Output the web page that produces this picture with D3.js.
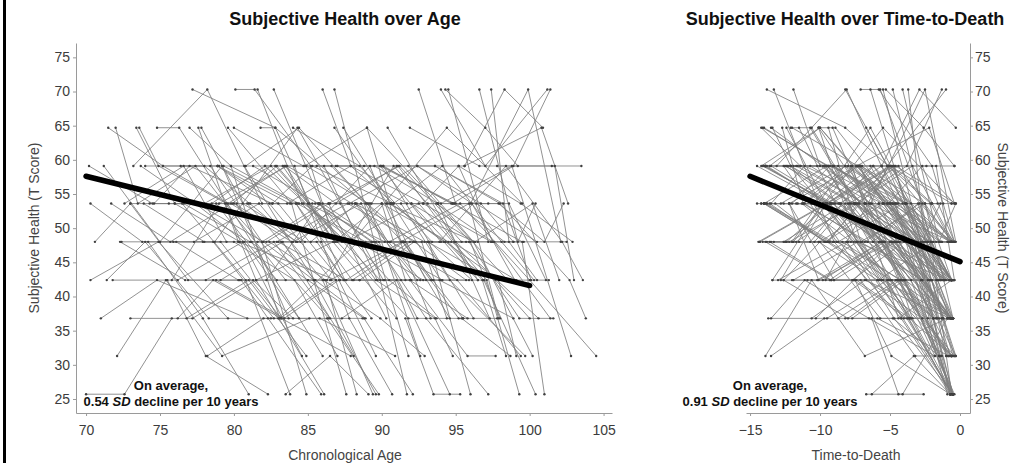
<!DOCTYPE html>
<html>
<head>
<meta charset="utf-8">
<script src="https://cdn.jsdelivr.net/npm/d3@7"></script>
<style>
  body { margin: 0; background: #fff; }
  svg { display: block; }
  text { font-family: "Liberation Sans", Arial, Helvetica, sans-serif; }
</style>
</head>
<body>
<svg id="chart" width="1027" height="463"></svg>
<script>
// Discrete T-score levels of the subjective health item
const tLevels = [25.7, 31.3, 36.8, 42.4, 48.0, 53.6, 59.1, 64.7, 70.3];

// Age at death, one entry per participant
const deathAge = [
  84.0, 83.5, 76.7, 80.5, 85.0, 84.7, 86.0, 86.2, 81.6, 86.3,
  87.0, 82.5, 88.3, 86.9, 84.4, 91.0, 83.0, 90.0, 88.0, 85.5,
  91.2, 89.9, 87.7, 92.0, 91.7, 87.2, 93.0, 88.9, 91.6, 87.5,
  94.1, 92.7, 90.3, 95.0, 87.3, 93.5, 91.9, 96.0, 90.5, 94.6,
  97.2, 96.0, 95.5, 89.8, 98.0, 96.4, 94.0, 99.0, 92.6, 97.5,
  97.9, 100.0, 93.9, 98.6, 96.9, 101.0, 95.0, 99.8, 92.3, 102.0,
  96.2, 100.7, 98.4, 103.5, 97.7, 101.6, 99.4, 104.9, 98.9, 101.2,
  100.3, 97.9, 103.9, 101.2, 99.6, 104.0, 102.2, 100.9, 104.3, 98.5,
  99.6, 101.8, 99.3, 100.2, 102.4, 100.7, 101.1, 81.0, 83.8, 85.2,
  80.0, 86.7, 84.9, 102.7, 81.6, 84.3, 85.6, 86.4, 88.5, 89.0,
  91.2, 92.4, 96.5, 88.6, 93.3, 95.9, 90.7, 99.9, 97.1, 94.8,
  98.8, 103.0, 89.4, 92.9, 96.7, 100.5, 103.4, 87.5, 85.9, 89.1,
  84.0, 90.6, 92.2, 88.1, 93.8, 91.4, 95.3, 94.4, 96.9, 98.2,
  97.0, 99.5, 100.6, 101.9, 102.5, 103.1, 104.6, 89.7, 90.2, 86.1,
  92.8, 95.6, 94.9, 97.6, 99.2, 96.3, 100.9, 98.1, 93.6, 91.1,
  88.4, 87.9, 85.3, 102.9, 101.4, 99.0, 103.7, 96.0, 93.0, 90.0,
  104.2, 100.1
];

// Age at each assessment, per participant
const obsAge = [
  [70.2, 74.5, 78.8, 82.9], [70.3, 73.8, 78.6, 82.7], [70.0, 72.6, 75.8], [70.3, 74.9, 79.6],
  [71.5, 75.2, 78.0, 84.2], [72.0, 73.5, 77.4, 83.5], [72.1, 75.4, 79.2, 85.1], [72.4, 76.1, 80.3, 85.5],
  [71.0, 74.8, 80.9], [73.2, 78.2, 81.9, 85.1], [73.6, 74.9, 79.5, 86.4], [73.9, 78.0, 81.6],
  [74.3, 78.5, 82.1, 87.6], [74.8, 76.3, 81.2, 86.0], [75.0, 79.2, 83.7], [77.2, 82.8, 88.9, 90.4],
  [75.5, 78.1, 82.3], [76.0, 80.4, 85.6, 89.3], [76.4, 78.9, 83.0, 87.2], [76.8, 81.0, 84.9],
  [77.0, 79.8, 84.4, 90.6], [77.3, 81.7, 86.0, 89.4], [77.6, 80.3, 86.9], [78.0, 82.5, 87.3, 91.5],
  [78.2, 82.0, 85.8, 90.9], [80.1, 81.4, 85.2, 86.8], [78.9, 83.8, 88.2, 92.4], [79.1, 83.3, 88.1],
  [79.4, 81.5, 86.7, 91.0], [79.8, 83.1, 86.9], [80.0, 84.7, 89.5, 93.8], [80.3, 84.0, 88.6, 92.0],
  [80.7, 85.4, 89.6], [81.0, 85.0, 90.2, 94.3], [81.6, 84.6, 86.9], [81.5, 86.1, 89.9, 92.9],
  [81.8, 82.8, 87.5, 91.3], [82.1, 86.6, 91.4, 95.2], [82.3, 86.3, 89.8], [82.6, 85.3, 90.7, 94.0],
  [82.9, 87.7, 92.3, 96.5], [82.7, 87.0, 91.8, 95.5], [83.4, 86.9, 91.1, 94.9], [83.5, 86.5, 89.1],
  [84.0, 88.5, 93.4, 97.4], [84.2, 87.4, 91.9, 95.8], [84.5, 89.2, 93.3], [84.8, 89.0, 93.8, 98.5],
  [85.0, 88.8, 92.1], [85.3, 90.0, 94.5, 96.9], [86.0, 87.9, 92.8, 95.2, 97.5], [85.9, 90.6, 95.1, 99.4],
  [86.1, 89.7, 93.5], [86.4, 91.2, 96.0, 98.0], [86.8, 90.4, 96.3], [87.0, 91.7, 96.4, 100.5],
  [87.3, 91.0, 94.6], [87.6, 92.5, 97.1, 99.3], [86.8, 89.5, 91.8], [88.2, 92.9, 97.6, 101.4],
  [88.5, 92.2, 95.7], [88.8, 93.6, 98.2, 100.1], [89.0, 91.3, 95.9, 97.9], [89.3, 94.0, 98.8, 102.8],
  [89.6, 93.0, 97.2], [89.9, 94.8, 99.5, 101.0], [90.2, 93.9, 98.9], [90.5, 95.3, 100.0, 104.5],
  [92.5, 95.0, 98.3], [91.0, 95.6, 98.3, 100.9], [91.3, 94.6, 99.7], [91.6, 93.5, 95.3],
  [91.9, 96.6, 101.5, 103.5], [92.2, 95.0, 100.6], [92.4, 96.1, 99.0], [92.8, 97.4, 102.5],
  [94.0, 97.0, 101.2], [93.3, 96.9, 100.4], [93.6, 98.0, 102.7, 103.8], [93.8, 97.3],
  [94.3, 97.0, 99.2], [94.7, 99.1, 101.3], [94.5, 97.2, 98.9], [95.4, 98.7],
  [96.0, 99.9, 102.1], [96.6, 99.2, 100.4], [97.4, 98.6, 100.5], [70.6, 73.0, 76.9, 80.4],
  [71.2, 75.0, 79.1, 83.2], [71.8, 76.2, 80.6, 84.6], [72.6, 76.6, 79.5], [73.0, 77.2, 81.5, 86.1],
  [73.4, 76.0, 80.0, 84.3], [94.8, 98.9, 101.4], [74.2, 77.9, 81.0], [76.5, 80.8, 83.8],
  [78.4, 81.9, 84.9], [80.5, 85.9], [79.6, 83.9, 87.6], [82.4, 86.2, 88.3],
  [84.1, 87.8, 90.7], [85.7, 89.3, 91.7], [90.1, 93.2, 96.0], [75.8, 79.0, 83.6, 88.0],
  [83.0, 88.4, 92.8], [86.3, 90.8, 95.4], [78.7, 84.3, 90.1], [88.0, 94.4, 99.5],
  [90.4, 96.5], [81.3, 85.7, 89.4, 94.1], [87.2, 92.0, 96.8, 98.4], [95.6, 100.8, 102.6],
  [75.6, 80.9, 85.5, 88.9], [79.0, 84.9, 89.1, 92.6], [83.2, 88.7, 93.1, 96.2], [91.8, 96.2, 100.2],
  [97.8, 101.7, 103.0], [73.0, 77.5, 82.0, 85.4], [72.3, 76.7, 81.3, 84.0], [75.2, 79.6, 83.5, 86.8],
  [71.4, 74.0, 78.3, 82.5], [76.6, 81.1, 85.0, 88.5], [77.9, 82.2, 86.4, 90.3], [74.6, 77.0, 82.6, 86.5],
  [79.3, 84.2, 88.0, 91.9], [78.8, 83.4, 87.1, 89.6], [81.1, 85.5, 90.3, 93.0], [80.8, 84.4, 89.0, 92.1],
  [83.0, 87.6, 91.5, 94.6], [84.3, 88.9, 93.2, 96.1], [85.6, 89.9, 94.0, 95.7], [86.5, 91.4, 95.5, 97.8],
  [87.8, 92.4, 96.7, 98.9], [88.6, 93.1, 97.7, 100.0], [90.0, 94.9, 98.6, 101.1], [92.0, 96.3, 100.2, 102.0],
  [93.9, 98.4, 102.2, 103.6], [76.2, 78.6, 83.2, 87.9], [77.8, 80.6, 84.8, 88.2], [73.7, 77.4, 80.7, 84.4],
  [80.2, 83.6, 87.9, 90.8], [82.2, 85.8, 90.5, 93.7], [82.8, 87.3, 91.6, 93.4], [85.2, 88.3, 92.6, 95.9],
  [86.9, 90.1, 94.7, 97.2], [85.8, 89.6, 93.6, 94.8], [89.2, 93.7, 97.5, 99.6], [87.4, 90.6, 94.2, 96.5],
  [81.9, 86.0, 89.8, 92.4], [79.9, 82.9, 87.4, 89.9], [75.9, 80.0, 84.1, 87.0], [74.0, 78.9, 82.4, 86.6],
  [71.7, 75.7, 79.8, 83.9], [91.4, 95.9, 99.3, 101.6], [90.8, 94.1, 98.1, 100.3], [88.1, 91.9, 95.8, 97.7],
  [93.1, 97.9, 101.0, 102.3], [84.7, 88.2, 92.7, 94.4], [83.3, 86.8, 90.0, 91.6], [78.1, 82.7, 86.5, 88.7],
  [95.2, 99.4, 102.9], [90.6, 94.3, 97.9, 99.1]
];

// Level (index into tLevels) reported at each assessment
const obsLevel = [
  [6, 5, 5, 3], [5, 4, 4, 2], [0, 0, 2], [3, 4, 2],
  [7, 6, 6, 4], [7, 5, 6, 3], [1, 3, 1, 2], [4, 4, 3, 3],
  [2, 3, 2], [6, 8, 5, 5], [7, 6, 5, 2], [5, 4, 4],
  [5, 5, 6, 4], [7, 7, 4, 1], [4, 6, 2], [8, 7, 5, 4],
  [3, 1, 0], [5, 4, 4, 2], [6, 6, 5, 3], [2, 3, 1],
  [7, 6, 5, 5], [4, 5, 3, 0], [7, 4, 3], [5, 6, 4, 4],
  [1, 2, 2, 1], [8, 8, 6, 4], [6, 5, 5, 3], [3, 4, 1],
  [5, 3, 4, 2], [6, 2, 3], [7, 6, 6, 5], [4, 4, 5, 3],
  [6, 3, 0], [5, 5, 4, 4], [8, 5, 4], [3, 3, 2, 1],
  [7, 7, 3, 3], [6, 6, 4, 2], [2, 2, 0], [5, 6, 5, 3],
  [4, 5, 4, 4], [8, 4, 2, 2], [6, 5, 6, 4], [0, 1, 0],
  [7, 6, 4, 4], [5, 3, 3, 2], [4, 6, 2], [6, 7, 5, 3],
  [3, 2, 0], [5, 5, 4, 3], [8, 6, 5, 6, 4], [4, 4, 3, 1],
  [6, 3, 3], [5, 6, 4, 2], [7, 5, 4], [6, 5, 5, 4],
  [2, 3, 0], [4, 5, 3, 0], [8, 4, 1], [5, 4, 4, 2],
  [3, 4, 3], [6, 6, 5, 3], [7, 4, 5, 2], [5, 5, 6, 1],
  [4, 2, 0], [6, 5, 4, 0], [3, 3, 2], [4, 5, 3, 1],
  [8, 5, 4], [6, 6, 8, 7], [5, 3, 1], [2, 0, 0],
  [7, 6, 6, 6], [4, 4, 2], [6, 5, 3], [5, 4, 4],
  [8, 6, 8], [3, 3, 0], [6, 5, 3, 2], [5, 2],
  [8, 7, 6], [4, 3, 3], [8, 4, 4], [2, 1],
  [5, 8, 4], [8, 4, 5], [8, 4, 3], [4, 5, 3, 3],
  [6, 4, 4, 2], [3, 3, 4, 1], [5, 6, 4], [2, 2, 3, 0],
  [7, 5, 5, 4], [5, 6, 8], [4, 2, 0], [5, 3, 0],
  [6, 4, 0], [3, 0], [7, 5, 0], [4, 3, 0],
  [6, 2, 0], [5, 4, 0], [6, 4, 0], [3, 5, 6, 5],
  [2, 4, 3], [3, 6, 4], [4, 7, 3], [4, 7, 5],
  [7, 3], [6, 5, 4, 3], [5, 5, 3, 1], [6, 7, 5],
  [5, 5, 3, 2], [6, 6, 5, 1], [4, 4, 4, 2], [6, 4, 1],
  [6, 6, 3], [5, 5, 4, 3], [4, 3, 3, 2], [6, 5, 6, 4],
  [3, 4, 2, 2], [5, 4, 3, 3], [4, 4, 5, 2], [5, 6, 5, 5],
  [6, 5, 3, 4], [3, 2, 3, 1], [5, 5, 5, 3], [6, 7, 5, 4],
  [4, 3, 4, 2], [5, 4, 4, 3], [6, 6, 4, 4], [3, 4, 2, 2],
  [5, 6, 5, 4], [4, 4, 3, 2], [6, 5, 5, 3], [5, 4, 5, 3],
  [4, 6, 4, 3], [2, 3, 2, 1], [7, 5, 4, 4], [6, 5, 4, 2],
  [5, 5, 6, 5], [3, 5, 3, 2], [6, 4, 4, 3], [4, 5, 3, 3],
  [6, 6, 5, 5], [5, 3, 2, 1], [5, 5, 4, 4], [7, 5, 4, 3],
  [4, 5, 4, 2], [5, 6, 4, 3], [4, 4, 3, 1], [6, 6, 5, 3],
  [5, 4, 5, 4], [4, 4, 2, 2], [5, 6, 4, 3], [3, 3, 1, 1],
  [5, 5, 4, 5], [5, 4, 4, 2], [6, 4, 5, 3], [3, 4, 2, 2],
  [6, 5, 4], [5, 4, 3, 1]
];

// Axis ticks
const scoreTicks = [25, 30, 35, 40, 45, 50, 55, 60, 65, 70, 75];
const ageTicks = [70, 75, 80, 85, 90, 95, 100, 105];
const ttdTicks = [-15, -10, -5, 0];

// Fixed-effect trend lines (endpoints)
const ageTrendX = [70, 100];
const ageTrendY = [57.6, 41.6];
const ttdTrendX = [-15, 0];
const ttdTrendY = [57.6, 45.1];

const svg = d3.select("#chart");
svg.append("rect").attr("width", 1027).attr("height", 463).attr("fill", "#fff");
svg.append("rect").attr("x", 3).attr("y", 0).attr("width", 3).attr("height", 463).attr("fill", "#000");

const y = d3.scaleLinear().domain([22.95, 77.1]).range([413, 43]);

const people = deathAge.map((d, i) => obsAge[i].map((a, j) => ({
  age: a,
  ttd: a - d,
  score: tLevels[obsLevel[i][j]]
})));

const panels = [
  {
    key: "age",
    x: d3.scaleLinear().domain([69.32, 105.57]).range([76, 612]),
    ticks: ageTicks,
    yAxisX: 76,
    side: "left",
    title: "Subjective Health over Age",
    titleX: 345,
    xLabel: "Chronological Age",
    xLabelX: 345,
    trendX: ageTrendX, trendY: ageTrendY,
    note: "0.54", noteX: 171
  },
  {
    key: "ttd",
    x: d3.scaleLinear().domain([-15.29, 0.714]).range([746, 970]),
    ticks: ttdTicks,
    yAxisX: 970,
    side: "right",
    title: "Subjective Health over Time-to-Death",
    titleX: 845,
    xLabel: "Time-to-Death",
    xLabelX: 856,
    trendX: ttdTrendX, trendY: ttdTrendY,
    note: "0.91", noteX: 770
  }
];

panels.forEach(p => {
  const g = svg.append("g").attr("class", "panel-" + p.key);
  const line = d3.line().x(d => p.x(d[p.key])).y(d => y(d.score));

  // individual trajectories
  g.append("g").selectAll("path").data(people).join("path")
    .attr("d", line)
    .attr("fill", "none")
    .attr("stroke", "#7e7e7e")
    .attr("stroke-width", 0.85);

  g.append("g").selectAll("circle").data(people.flat()).join("circle")
    .attr("cx", d => p.x(d[p.key]))
    .attr("cy", d => y(d.score))
    .attr("r", 1.2)
    .attr("fill", "#404040");

  // average trend
  const trend = p.trendX.map((v, i) => [v, p.trendY[i]]);
  g.append("path")
    .attr("d", d3.line().x(d => p.x(d[0])).y(d => y(d[1]))(trend))
    .attr("fill", "none")
    .attr("stroke", "#000")
    .attr("stroke-width", 5.5)
    .attr("stroke-linecap", "round");

  // x axis
  const xAxis = g.append("g").attr("transform", "translate(0,413)")
    .call(d3.axisBottom(p.x).tickValues(p.ticks).tickSize(3).tickSizeOuter(0).tickPadding(9));
  // y axis
  const yAx = p.side === "left" ? d3.axisLeft(y) : d3.axisRight(y);
  const yAxis = g.append("g").attr("transform", `translate(${p.yAxisX},0)`)
    .call(yAx.tickValues(scoreTicks).tickSize(3).tickSizeOuter(0).tickPadding(p.side === "left" ? 3 : 2));

  [xAxis, yAxis].forEach(a => {
    a.select(".domain").attr("stroke", "#9a9a9a").attr("stroke-width", 1);
    a.selectAll(".tick line").attr("stroke", "#9a9a9a");
    a.selectAll(".tick text").attr("fill", "#3c3c3c").attr("font-size", 14)
      .attr("font-family", "'Liberation Sans', Arial, sans-serif");
  });

  // titles
  g.append("text").attr("x", p.titleX).attr("y", 25)
    .attr("text-anchor", "middle").attr("font-size", 18).attr("font-weight", "bold")
    .attr("fill", "#111").text(p.title);

  g.append("text").attr("x", p.xLabelX).attr("y", 460)
    .attr("text-anchor", "middle").attr("font-size", 14).attr("fill", "#444")
    .text(p.xLabel);

  const yTitle = g.append("text").attr("text-anchor", "middle").attr("font-size", 14).attr("fill", "#444")
    .text("Subjective Health (T Score)");
  if (p.side === "left") yTitle.attr("transform", "translate(39,228) rotate(-90)");
  else yTitle.attr("transform", "translate(998,228) rotate(90)");

  // annotation
  g.append("text").attr("x", p.noteX).attr("y", 390)
    .attr("text-anchor", "middle").attr("font-size", 13).attr("font-weight", "bold").attr("fill", "#111")
    .text("On average,");
  const n2 = g.append("text").attr("x", p.noteX).attr("y", 406)
    .attr("text-anchor", "middle").attr("font-size", 13).attr("font-weight", "bold").attr("fill", "#111");
  n2.append("tspan").text(p.note + " ");
  n2.append("tspan").attr("font-style", "italic").text("SD");
  n2.append("tspan").text(" decline per 10 years");
});
</script>
</body>
</html>
